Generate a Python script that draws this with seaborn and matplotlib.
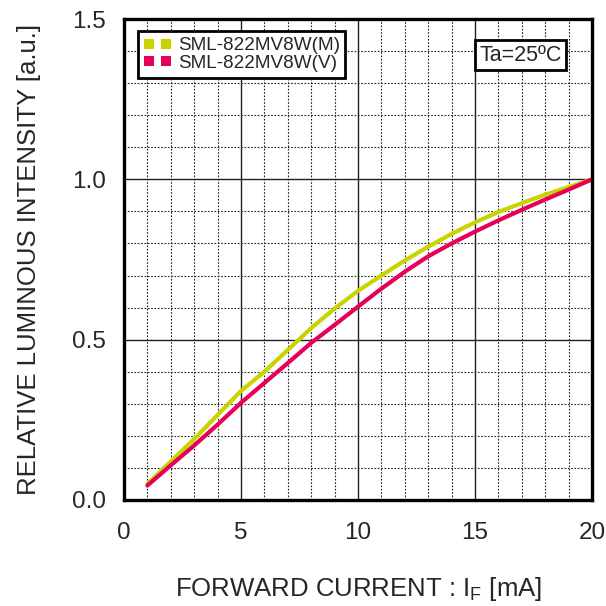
import numpy as np
import pandas as pd
import matplotlib
matplotlib.use("Agg")
import matplotlib.pyplot as plt
import seaborn as sns
from matplotlib.lines import Line2D
from matplotlib.ticker import MultipleLocator

# forward current (mA) and relative luminous intensity
current = [1, 2, 3, 4, 5, 6, 7, 8, 9, 10, 11, 12, 13, 14, 15, 16, 17, 18, 19, 20]
intensity_m = [0.05, 0.12, 0.19, 0.265, 0.34, 0.40, 0.468, 0.536, 0.597, 0.652,
               0.70, 0.747, 0.79, 0.83, 0.866, 0.898, 0.926, 0.952, 0.976, 1.0]
intensity_v = [0.045, 0.108, 0.17, 0.235, 0.303, 0.365, 0.427, 0.49, 0.546, 0.603,
               0.659, 0.712, 0.76, 0.80, 0.837, 0.872, 0.905, 0.937, 0.968, 1.0]
series_names = ["SML-822MV8W(M)", "SML-822MV8W(V)"]
colors = ["#c8d400", "#e6005a"]

df = pd.DataFrame({
    "current": current * 2,
    "intensity": intensity_m + intensity_v,
    "series": [series_names[0]] * len(current) + [series_names[1]] * len(current),
})

sns.set_style("white")
plt.rcParams["font.family"] = ["Liberation Sans", "DejaVu Sans"]

fig = plt.figure(figsize=(6.06, 6.06), dpi=100)
ax = fig.add_axes([0.2046, 0.175, 0.7724, 0.7936])

sns.lineplot(data=df, x="current", y="intensity", hue="series",
             palette=colors, linewidth=3, legend=False, ax=ax)

ax.set_xlim(0, 20)
ax.set_ylim(0, 1.5)
ax.xaxis.set_major_locator(MultipleLocator(5))
ax.xaxis.set_minor_locator(MultipleLocator(1))
ax.yaxis.set_major_locator(MultipleLocator(0.5))
ax.yaxis.set_minor_locator(MultipleLocator(0.1))
ax.yaxis.set_major_formatter(matplotlib.ticker.FormatStrFormatter("%.1f"))

ax.grid(which="major", color="#222222", linewidth=1.0, linestyle="-")
ax.grid(which="minor", color="#222222", linewidth=0.8, linestyle=(0, (1.5, 1.5)))
ax.set_axisbelow(True)
ax.tick_params(which="both", length=0, labelsize=17.5)
ax.tick_params(axis="y", pad=13)
ax.tick_params(axis="x", pad=16)
for sp in ax.spines.values():
    sp.set_visible(True)
    sp.set_color("black")
    sp.set_linewidth(2.4)

ax.set_xlabel("FORWARD CURRENT : I$_\\mathregular{F}$ [mA]", fontsize=18.5, labelpad=22)
ax.set_ylabel("RELATIVE LUMINOUS INTENSITY [a.u.]", fontsize=18.5, labelpad=22)

handles = [Line2D([], [], linestyle="none", marker="s", markersize=7.5,
                  color=c, markeredgewidth=0) for c in colors]
leg = ax.legend(handles, series_names, loc="upper left", bbox_to_anchor=(0.022, 0.982),
                numpoints=2, fontsize=13.6, frameon=True, fancybox=False,
                handlelength=1.5, handletextpad=0.3, borderpad=0.3,
                labelspacing=0.02, borderaxespad=0.2)
leg.get_frame().set_edgecolor("black")
leg.get_frame().set_linewidth(2)
leg.get_frame().set_alpha(1)

ax.text(0.848, 0.925, "Ta=25ºC", transform=ax.transAxes, ha="center", va="center",
        fontsize=15.5, bbox=dict(boxstyle="square,pad=0.2", fc="white", ec="black", lw=2))

fig.savefig("out.png", dpi=100)
